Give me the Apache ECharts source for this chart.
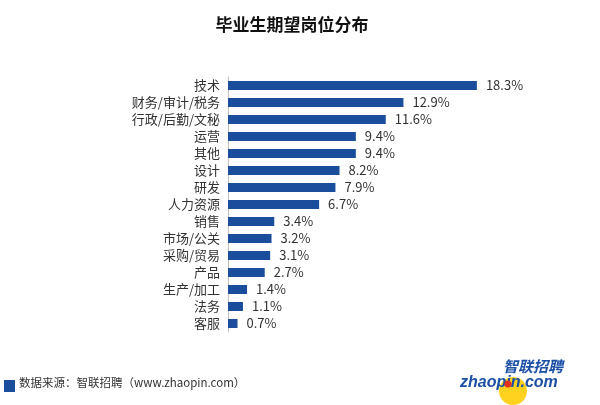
<!DOCTYPE html>
<html>
<head>
<meta charset="utf-8">
<script src="https://cdn.jsdelivr.net/npm/echarts@6/dist/echarts.min.js"></script>
<style>
  html, body { margin: 0; padding: 0; background: #fff; }
  #chart { width: 600px; height: 405px; }
</style>
</head>
<body>
<div id="chart"></div>
<script>
// 岗位类别（从上到下）
const categories = ['技术', '财务/审计/税务', '行政/后勤/文秘', '运营', '其他', '设计', '研发',
  '人力资源', '销售', '市场/公关', '采购/贸易', '产品', '生产/加工', '法务', '客服']
// 占比 %
const shares = [18.3, 12.9, 11.6, 9.4, 9.4, 8.2, 7.9, 6.7, 3.4, 3.2, 3.1, 2.7, 1.4, 1.1, 0.7]

const chart = echarts.init(document.getElementById('chart'))

const option = {
  backgroundColor: '#fff',
  animation: false,
  title: {
    text: '毕业生期望岗位分布',
    left: 287,
    top: 11,
    textAlign: 'center',
    textStyle: {
      fontFamily: 'Noto Sans CJK SC',
      fontSize: 17,
      fontWeight: 'bold',
      color: '#111'
    }
  },
  grid: {
    left: 228,
    right: 32,
    top: 77,
    height: 255
  },
  xAxis: {
    type: 'value',
    min: 0,
    max: 25,
    show: false
  },
  yAxis: {
    type: 'category',
    inverse: true,
    data: categories,
    axisLine: { lineStyle: { color: '#bfbfbf', width: 1 } },
    axisTick: { show: false },
    axisLabel: {
      color: '#333',
      fontSize: 13,
      fontFamily: 'Noto Sans CJK SC',
      margin: 8
    }
  },
  series: [{
    type: 'bar',
    data: shares,
    barWidth: 9,
    itemStyle: { color: '#1A4E9C' },
    label: {
      show: true,
      position: 'right',
      distance: 9,
      color: '#333',
      fontSize: 13,
      fontFamily: 'Noto Sans CJK SC',
      formatter: p => p.value.toFixed(1) + '%'
    }
  }],
  graphic: [
    // 数据来源
    { type: 'rect', left: 4, top: 380, shape: { width: 11, height: 12 }, style: { fill: '#1A4E9C' } },
    {
      type: 'text', left: 19, top: 377,
      style: { text: '数据来源：智联招聘（www.zhaopin.com）', fill: '#333', font: '11.5px "Noto Sans CJK SC"' }
    },
    // logo
    { type: 'circle', shape: { cx: 513, cy: 391, r: 14 }, style: { fill: '#FFD21F' } },
    {
      type: 'text', left: 503, top: 359,
      style: { text: '智联招聘', fill: '#1C4FA6', font: 'italic bold 15px "Noto Sans CJK SC"' }
    },
    {
      type: 'text', left: 460, top: 375,
      style: { text: 'zhaopin.com', fill: '#1C4FA6', font: 'italic bold 16px "Liberation Sans"' }
    },
    { type: 'circle', shape: { cx: 508, cy: 384, r: 3.5 }, style: { fill: '#E5301F' } }
  ]
}

chart.setOption(option)
</script>
</body>
</html>
